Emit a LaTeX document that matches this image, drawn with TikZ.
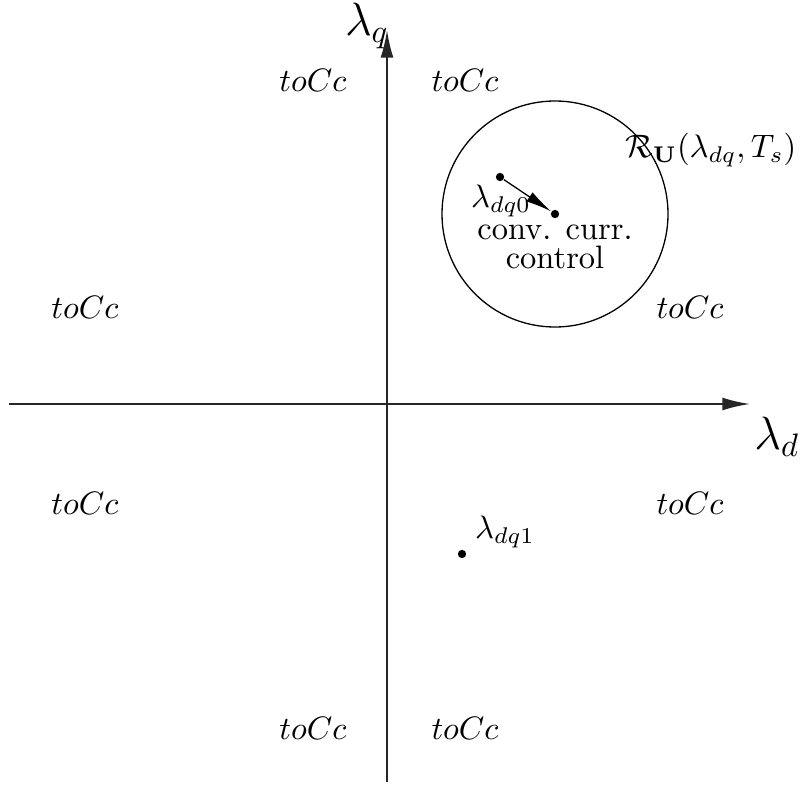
\documentclass[tikz,border=0pt]{standalone}
\usetikzlibrary{arrows.meta,positioning}
\begin{document}
\begin{tikzpicture}[
  x=1.083cm, y=1.083cm,
  axis/.style={-{Latex[length=3mm,width=1.4mm]}, semithick, draw=black!85},
  step arrow/.style={-{Latex[length=2.8mm,width=1.2mm]}, thin, draw=black},
  dot/.style={circle, fill=black, inner sep=0pt, minimum size=0.9mm},
  zone/.style={inner sep=0pt},
  axislabel/.style={font=\Large, inner sep=0pt}
]
  \useasboundingbox (-3.87,-3.80) rectangle (4.19,4.04);

  % axes
  \coordinate (dmin) at (-3.78,0);
  \coordinate (dmax) at (3.63,0);
  \coordinate (qmin) at (0,-3.78);
  \coordinate (qmax) at (0,3.74);
  \draw[axis] (dmin) -- (dmax);
  \draw[axis] (qmin) -- (qmax);
  \node[axislabel] (ld) at (3.90,-0.33) {$\lambda_d$};
  \node[axislabel] (lq) at (-0.20,3.78) {$\lambda_q$};

  % reachable region
  \node[draw, circle, thin, minimum size=2.26*1.083cm, inner sep=0pt] (reach) at (1.68,1.90) {};
  \node[anchor=east, inner sep=0pt] (reachlabel) at (4.10,2.54) {$\mathcal{R}_{\mathbf{U}}(\lambda_{dq},T_s)$};

  \node[dot] (start) at (1.13,2.27) {};
  \node[dot] (center) at (reach.center) {};
  \draw[step arrow] (start) -- (center);
  \node[inner sep=0pt] (l0) at (1.14,2.03) {$\lambda_{dq0}$};
  \node[align=center, inner sep=0pt] (ctrl) at (1.68,1.57) {conv. curr.\\[-3pt]control};

  \node[dot] (next) at (0.75,-1.50) {};
  \node[inner sep=0pt] (l1) at (1.18,-1.28) {$\lambda_{dq1}$};

  % sector labels
  \foreach \px/\py [count=\i] in {-0.74/3.24, 0.78/3.24, -3.02/0.97, 3.03/0.97,
      -3.02/-0.99, 3.03/-0.99, -0.74/-3.24, 0.78/-3.24}
    \node[zone] (sector\i) at (\px,\py) {$toCc$};
\end{tikzpicture}
\end{document}
